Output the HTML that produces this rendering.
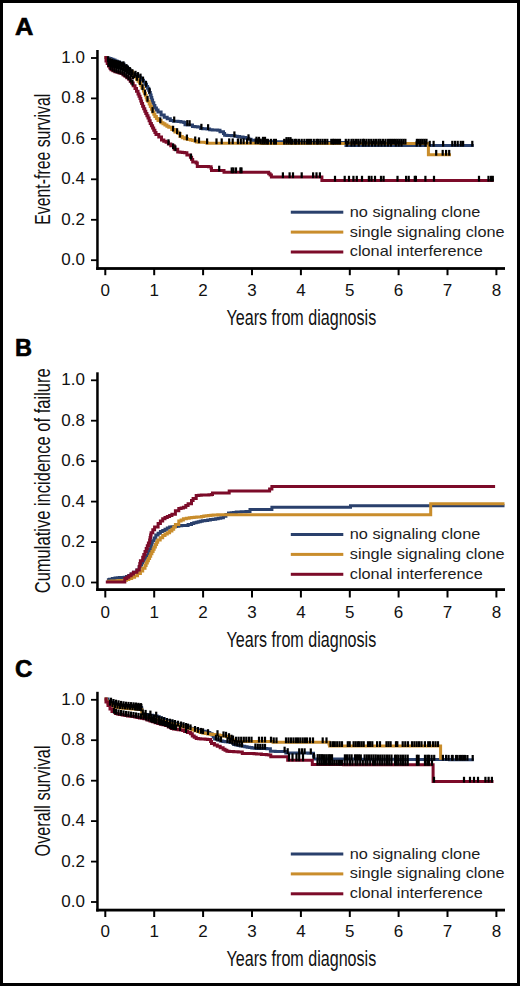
<!DOCTYPE html><html><head><meta charset="utf-8"><style>html,body{margin:0;padding:0;background:#fff;}svg{display:block;}.tk{font-family:"Liberation Sans",sans-serif;font-size:17px;fill:#111;}.ttl{font-family:"Liberation Sans",sans-serif;font-size:22px;fill:#111;}.lg{font-family:"Liberation Sans",sans-serif;font-size:15px;fill:#1c1c1c;}.pl{font-family:"Liberation Sans",sans-serif;font-size:23.5px;font-weight:bold;fill:#000;stroke:#000;stroke-width:0.6px;}</style></head><body><svg width="520" height="986" viewBox="0 0 520 986"><rect x="0" y="0" width="520" height="986" fill="#fff"/><rect x="1.5" y="1.5" width="517" height="983" fill="none" stroke="#000" stroke-width="3"/><text x="15.0" y="35.3" class="pl" textLength="18.4" lengthAdjust="spacingAndGlyphs">A</text><rect x="96.2" y="50.0" width="2.5" height="219.9" fill="#000"/><rect x="96.2" y="267.1" width="408.8" height="2.8" fill="#000"/><rect x="91" y="259.3" width="6" height="1.8" fill="#000"/><text x="85" y="265.1" text-anchor="end" class="tk">0.0</text><rect x="91" y="218.9" width="6" height="1.8" fill="#000"/><text x="85" y="224.7" text-anchor="end" class="tk">0.2</text><rect x="91" y="178.4" width="6" height="1.8" fill="#000"/><text x="85" y="184.2" text-anchor="end" class="tk">0.4</text><rect x="91" y="138.0" width="6" height="1.8" fill="#000"/><text x="85" y="143.8" text-anchor="end" class="tk">0.6</text><rect x="91" y="97.5" width="6" height="1.8" fill="#000"/><text x="85" y="103.3" text-anchor="end" class="tk">0.8</text><rect x="91" y="57.1" width="6" height="1.8" fill="#000"/><text x="85" y="62.9" text-anchor="end" class="tk">1.0</text><rect x="104.3" y="268.5" width="2" height="6.7" fill="#000"/><text x="105.3" y="295.5" text-anchor="middle" class="tk">0</text><rect x="153.2" y="268.5" width="2" height="6.7" fill="#000"/><text x="154.2" y="295.5" text-anchor="middle" class="tk">1</text><rect x="202.1" y="268.5" width="2" height="6.7" fill="#000"/><text x="203.1" y="295.5" text-anchor="middle" class="tk">2</text><rect x="251.0" y="268.5" width="2" height="6.7" fill="#000"/><text x="252.0" y="295.5" text-anchor="middle" class="tk">3</text><rect x="299.9" y="268.5" width="2" height="6.7" fill="#000"/><text x="300.9" y="295.5" text-anchor="middle" class="tk">4</text><rect x="348.8" y="268.5" width="2" height="6.7" fill="#000"/><text x="349.8" y="295.5" text-anchor="middle" class="tk">5</text><rect x="397.6" y="268.5" width="2" height="6.7" fill="#000"/><text x="398.6" y="295.5" text-anchor="middle" class="tk">6</text><rect x="446.5" y="268.5" width="2" height="6.7" fill="#000"/><text x="447.5" y="295.5" text-anchor="middle" class="tk">7</text><rect x="495.4" y="268.5" width="2" height="6.7" fill="#000"/><text x="496.4" y="295.5" text-anchor="middle" class="tk">8</text><text x="226.6" y="324.6" class="ttl" textLength="149.6" lengthAdjust="spacingAndGlyphs">Years from diagnosis</text><text transform="translate(50.4,159.2) rotate(-90)" x="-65.5" y="0" class="ttl" textLength="131.0" lengthAdjust="spacingAndGlyphs">Event-free survival</text><rect x="290.8" y="210.7" width="52.5" height="3" fill="#2a406c"/><text x="349.8" y="217.1" class="lg" textLength="130.5" lengthAdjust="spacingAndGlyphs">no signaling clone</text><rect x="290.8" y="230.6" width="52.5" height="3" fill="#c98d2c"/><text x="349.8" y="236.6" class="lg" textLength="154.8" lengthAdjust="spacingAndGlyphs">single signaling clone</text><rect x="290.8" y="250.5" width="52.5" height="3" fill="#7c0b29"/><text x="349.8" y="256.2" class="lg" textLength="133" lengthAdjust="spacingAndGlyphs">clonal interference</text><text x="15.0" y="355.6" class="pl" textLength="17.0" lengthAdjust="spacingAndGlyphs">B</text><rect x="96.2" y="372.3" width="2.5" height="218.7" fill="#000"/><rect x="96.2" y="588.2" width="408.8" height="2.8" fill="#000"/><rect x="91" y="581.6" width="6" height="1.8" fill="#000"/><text x="85" y="587.4" text-anchor="end" class="tk">0.0</text><rect x="91" y="541.2" width="6" height="1.8" fill="#000"/><text x="85" y="547.0" text-anchor="end" class="tk">0.2</text><rect x="91" y="500.7" width="6" height="1.8" fill="#000"/><text x="85" y="506.5" text-anchor="end" class="tk">0.4</text><rect x="91" y="460.3" width="6" height="1.8" fill="#000"/><text x="85" y="466.1" text-anchor="end" class="tk">0.6</text><rect x="91" y="419.8" width="6" height="1.8" fill="#000"/><text x="85" y="425.6" text-anchor="end" class="tk">0.8</text><rect x="91" y="379.4" width="6" height="1.8" fill="#000"/><text x="85" y="385.2" text-anchor="end" class="tk">1.0</text><rect x="104.3" y="589.6" width="2" height="7.9" fill="#000"/><text x="105.3" y="617.8" text-anchor="middle" class="tk">0</text><rect x="153.2" y="589.6" width="2" height="7.9" fill="#000"/><text x="154.2" y="617.8" text-anchor="middle" class="tk">1</text><rect x="202.1" y="589.6" width="2" height="7.9" fill="#000"/><text x="203.1" y="617.8" text-anchor="middle" class="tk">2</text><rect x="251.0" y="589.6" width="2" height="7.9" fill="#000"/><text x="252.0" y="617.8" text-anchor="middle" class="tk">3</text><rect x="299.9" y="589.6" width="2" height="7.9" fill="#000"/><text x="300.9" y="617.8" text-anchor="middle" class="tk">4</text><rect x="348.8" y="589.6" width="2" height="7.9" fill="#000"/><text x="349.8" y="617.8" text-anchor="middle" class="tk">5</text><rect x="397.6" y="589.6" width="2" height="7.9" fill="#000"/><text x="398.6" y="617.8" text-anchor="middle" class="tk">6</text><rect x="446.5" y="589.6" width="2" height="7.9" fill="#000"/><text x="447.5" y="617.8" text-anchor="middle" class="tk">7</text><rect x="495.4" y="589.6" width="2" height="7.9" fill="#000"/><text x="496.4" y="617.8" text-anchor="middle" class="tk">8</text><text x="226.6" y="646.9" class="ttl" textLength="149.6" lengthAdjust="spacingAndGlyphs">Years from diagnosis</text><text transform="translate(50.4,480.8) rotate(-90)" x="-112.5" y="0" class="ttl" textLength="225.0" lengthAdjust="spacingAndGlyphs">Cumulative incidence of failure</text><rect x="290.8" y="533.0" width="52.5" height="3" fill="#2a406c"/><text x="349.8" y="539.4" class="lg" textLength="130.5" lengthAdjust="spacingAndGlyphs">no signaling clone</text><rect x="290.8" y="552.9" width="52.5" height="3" fill="#c98d2c"/><text x="349.8" y="558.9" class="lg" textLength="154.8" lengthAdjust="spacingAndGlyphs">single signaling clone</text><rect x="290.8" y="572.8" width="52.5" height="3" fill="#7c0b29"/><text x="349.8" y="578.5" class="lg" textLength="133" lengthAdjust="spacingAndGlyphs">clonal interference</text><text x="15.0" y="676.8" class="pl" textLength="17.4" lengthAdjust="spacingAndGlyphs">C</text><rect x="96.2" y="691.8" width="2.5" height="219.7" fill="#000"/><rect x="96.2" y="908.7" width="408.8" height="2.8" fill="#000"/><rect x="91" y="901.1" width="6" height="1.8" fill="#000"/><text x="85" y="906.9" text-anchor="end" class="tk">0.0</text><rect x="91" y="860.7" width="6" height="1.8" fill="#000"/><text x="85" y="866.5" text-anchor="end" class="tk">0.2</text><rect x="91" y="820.2" width="6" height="1.8" fill="#000"/><text x="85" y="826.0" text-anchor="end" class="tk">0.4</text><rect x="91" y="779.8" width="6" height="1.8" fill="#000"/><text x="85" y="785.6" text-anchor="end" class="tk">0.6</text><rect x="91" y="739.3" width="6" height="1.8" fill="#000"/><text x="85" y="745.1" text-anchor="end" class="tk">0.8</text><rect x="91" y="698.9" width="6" height="1.8" fill="#000"/><text x="85" y="704.7" text-anchor="end" class="tk">1.0</text><rect x="104.3" y="910.1" width="2" height="6.9" fill="#000"/><text x="105.3" y="937.3" text-anchor="middle" class="tk">0</text><rect x="153.2" y="910.1" width="2" height="6.9" fill="#000"/><text x="154.2" y="937.3" text-anchor="middle" class="tk">1</text><rect x="202.1" y="910.1" width="2" height="6.9" fill="#000"/><text x="203.1" y="937.3" text-anchor="middle" class="tk">2</text><rect x="251.0" y="910.1" width="2" height="6.9" fill="#000"/><text x="252.0" y="937.3" text-anchor="middle" class="tk">3</text><rect x="299.9" y="910.1" width="2" height="6.9" fill="#000"/><text x="300.9" y="937.3" text-anchor="middle" class="tk">4</text><rect x="348.8" y="910.1" width="2" height="6.9" fill="#000"/><text x="349.8" y="937.3" text-anchor="middle" class="tk">5</text><rect x="397.6" y="910.1" width="2" height="6.9" fill="#000"/><text x="398.6" y="937.3" text-anchor="middle" class="tk">6</text><rect x="446.5" y="910.1" width="2" height="6.9" fill="#000"/><text x="447.5" y="937.3" text-anchor="middle" class="tk">7</text><rect x="495.4" y="910.1" width="2" height="6.9" fill="#000"/><text x="496.4" y="937.3" text-anchor="middle" class="tk">8</text><text x="226.6" y="966.4" class="ttl" textLength="149.6" lengthAdjust="spacingAndGlyphs">Years from diagnosis</text><text transform="translate(50.4,801.0) rotate(-90)" x="-55.5" y="0" class="ttl" textLength="111.0" lengthAdjust="spacingAndGlyphs">Overall survival</text><rect x="290.8" y="852.5" width="52.5" height="3" fill="#2a406c"/><text x="349.8" y="858.9" class="lg" textLength="130.5" lengthAdjust="spacingAndGlyphs">no signaling clone</text><rect x="290.8" y="872.4" width="52.5" height="3" fill="#c98d2c"/><text x="349.8" y="878.4" class="lg" textLength="154.8" lengthAdjust="spacingAndGlyphs">single signaling clone</text><rect x="290.8" y="892.3" width="52.5" height="3" fill="#7c0b29"/><text x="349.8" y="898.0" class="lg" textLength="133" lengthAdjust="spacingAndGlyphs">clonal interference</text><path d="M104.5,57.5H106.8V58.0H109.0V58.5H111.0V59.2H113.0V60.0H115.0V61.0H117.0V62.0H119.0V63.0H121.0V64.0H124.0V66.5H127.0V69.5H130.0V72.5H133.0V74.5H136.5V76.0H138.4V77.2H140.4V78.3H141.9V80.2H143.5V82.0H145.0V84.2H146.5V86.5H147.6V88.3H148.7V90.2H149.5V92.6H150.3V95.0H151.1V97.6H151.8V100.1H152.6V102.7H153.8V105.4H154.9V108.1H156.4V110.0H158.0V111.9H161.1V115.0H164.2V117.3H167.2V118.8H170.3V120.4H173.4V121.2H175.7V121.3H178.0V121.5H180.9V122.0H183.8V122.5H185.0V124.8H187.3V124.9H189.6V125.0H191.9V125.1H192.5V126.5H195.0V126.7H197.5V126.9H200.0V127.1H200.6V128.6H202.7V128.7H204.8V128.8H206.9V128.9H209.0V129.0H209.6V129.8H212.3V130.0H215.0V130.1H217.7V130.3H220.0V131.7H223.5V133.5H224.6V135.2H226.9V135.4H229.2V135.6H231.5V135.8H235.0V136.3H237.3V136.6H239.6V136.9H243.1V137.5H245.9V138.3H248.8V139.2H251.1V140.3H253.4V141.5H255.9V141.5H258.3V141.6H260.8V141.6H263.2V141.6H265.7V141.6H268.1V141.7H270.6V141.7H273.0V141.7H275.5V141.7H277.9V141.8H280.4V141.8H282.8V141.8H285.3V141.8H287.7V141.9H290.2V141.9H292.6V141.9H295.1V141.9H297.5V142.0H300.0V142.0H301.0V142.6L345.0,142.6H346.0V145.6L473.8,145.6" fill="none" stroke="#2a406c" stroke-width="3.0" stroke-linejoin="miter"/><path d="M104.5,57.5H107.0V60.0H110.0V63.0H112.5V63.8H115.0V64.5H117.5V65.0H120.0V65.5H122.5V67.0H125.0V68.5H127.5V70.2H130.0V72.0H132.7V75.0H134.6V77.1H136.5V79.2H138.1V81.2H139.6V83.1H140.8V85.5H141.9V88.0H143.5V91.0H144.4V93.2H145.4V95.4H146.2V97.7H146.9V100.0H148.0V101.5H149.2V104.0H150.3V106.5H151.4V109.2H152.6V111.9H153.8V114.2H154.9V116.5H156.4V118.5H158.0V120.4H161.1V122.7H163.0V123.8H164.9V125.0H166.9V126.2H168.8V127.3H171.8V129.6H174.9V131.9H178.0V133.5H180.0V136.5H182.3V137.7H184.6V138.8H187.5V139.4H190.4V140.0H192.6V140.5H194.8V141.0H196.5V142.1H198.7V142.2H200.8V142.2H203.0V142.3H205.2V142.4H207.0V143.2L260.0,143.2H261.0V143.6L428.4,143.6L428.4,154.7L451.0,154.7" fill="none" stroke="#c98d2c" stroke-width="3.0" stroke-linejoin="miter"/><path d="M104.5,57.5H106.0V61.0H107.2V63.5H108.5V66.0H109.8V67.9H111.0V69.8H113.0V70.8H115.0V71.7H117.1V72.3H119.1V73.0H121.2V73.6H123.1V74.9H125.0V76.3H126.9V77.8H128.8V79.3H130.2V81.2H131.5V83.0H133.2V85.8H135.0V88.5H136.5V91.2H138.0V94.0H139.0V96.2H140.0V98.5H140.8V101.0H141.6V103.5H142.6V106.2H143.7V108.8H144.8V111.2H145.8V113.5H146.9V115.8H148.0V118.1H149.1V120.8H150.2V123.5H151.4V125.8H152.6V128.1H153.7V130.2H154.9V132.4H156.0V134.5H158.8V137.0H161.5V140.0H163.8V141.2H166.1V142.3H168.4V144.1H170.8V145.8H174.2V149.2H177.7V152.1H180.0V152.3H182.3V152.5H184.6V152.7H186.9V155.0H190.4V157.3H191.6V159.6H192.7V161.9H196.1V163.1H197.3V166.5H199.5V166.5H201.7V166.6H203.9V166.6H206.2V166.6H208.4V166.7H210.6V166.7H211.1V168.6H211.5V170.5L222.1,170.5H224.0V172.2L267.4,172.2H268.7V173.7H270.1V175.1H271.4V177.1L321.2,177.1H321.9V180.6L493.7,180.6" fill="none" stroke="#7c0b29" stroke-width="3.0" stroke-linejoin="miter"/><path d="M106.9,579.8H109.6V579.2H112.3V578.6H115.0V578.0H117.3V577.8H119.6V577.6H121.9V577.5H124.2V577.3H126.5V576.4H128.8V575.5H131.1V573.9H133.4V572.3H136.9V570.0H139.2V567.0H140.3V565.0H141.5V563.0H142.8V561.0H144.0V559.0H145.2V557.0H146.5V555.0H148.4V551.5H149.6V549.2H150.7V546.9H151.2V544.8H151.8V542.8H152.3V540.7H154.1V537.9H155.8V535.0H158.1V533.2H160.4V531.5H162.7V530.4H165.0V529.2H167.3V528.0H169.6V526.9H171.9V526.8H174.2V526.6H176.5V526.2H178.8V525.8H181.7V525.6H184.6V525.5H188.1V524.6H191.5V523.4H193.8V522.8H196.2V522.3H198.2V521.8H200.3V521.3H202.3V520.8H205.0V520.4H207.7V520.0H210.4V519.6H213.1V519.2H215.7V518.7H218.2V518.2H220.8V517.7H223.4V516.2H225.9V514.6H228.5V513.1H231.1V512.7H233.6V512.4H236.2V512.0H238.7V511.9H241.1V511.8H243.6V511.7H246.0V511.6H248.5V511.5H250.0V509.6L270.8,509.6H271.9V507.3L349.3,507.3H350.5V505.8L504.5,505.8" fill="none" stroke="#2a406c" stroke-width="3.0" stroke-linejoin="miter"/><path d="M106.9,581.3H109.4V581.2H111.8V581.0H114.3V580.9H116.8V580.7H119.3V580.6H121.7V580.4H124.2V580.3H126.5V579.5H128.8V578.6H131.7V577.2H134.6V575.8H137.5V573.5H140.4V571.1H142.7V568.2H145.0V565.4H146.1V563.1H147.3V560.8H148.4V558.5H149.6V556.2H150.7V553.8H151.9V551.5H153.1V549.2H154.2V546.9H155.4V544.6H156.6V542.3H157.7V540.0H160.2V537.8H162.7V535.5H165.0V534.1H167.3V532.7H169.6V531.0H171.9V529.2H173.7V526.9H175.4V524.6H178.8V521.1H181.1V520.0H183.4V518.8H186.3V518.2H189.2V517.7H191.7V517.5H194.2V517.3H196.7V517.1H199.2V516.9H201.5V516.5H203.8V516.1H206.2V515.8H208.5V515.4H210.8V515.2H213.1V515.0H215.4V514.9H217.7V514.7L430.7,514.7L430.7,503.8L504.5,503.8" fill="none" stroke="#c98d2c" stroke-width="3.0" stroke-linejoin="miter"/><path d="M105.8,582.1L124.2,582.1H124.8V578.6H126.8V577.2H128.8V575.8H131.1V574.0H133.4V572.3H136.9V570.0H139.2V566.5H139.8V563.6H140.4V560.8H142.7V557.3H143.8V554.4H145.0V551.5H146.2V548.6H147.3V545.8H148.4V542.9H149.6V540.0H150.1V537.6H150.6V535.1H151.1V532.7H152.8V529.8H154.6V526.9H158.1V523.4H160.4V521.1H162.7V518.8H165.0V517.6H167.3V516.5H169.6V515.4H171.9V514.2H175.4V510.8H178.8V508.5H181.1V507.9H183.4V507.3H185.8V505.6H188.1V503.8H191.5V500.4H193.1V498.5H196.2V495.4H198.8V495.3H201.3V495.1H203.8V495.0H206.4V494.9H208.9V494.7H211.5V494.6H212.5V493.1L228.5,493.1H229.2V491.1L268.5,491.1H269.6V488.9H271.9V486.5L495.1,486.5" fill="none" stroke="#7c0b29" stroke-width="3.0" stroke-linejoin="miter"/><path d="M104.6,699.0H108.0V701.0H111.0V702.5H114.0V704.0H117.0V704.8H120.0V705.5H123.0V706.0H126.0V706.5H129.0V706.8H132.0V707.0H135.0V707.2H138.0V707.5H141.5V708.0H141.8V710.1H142.2V712.2H142.5V714.3H145.0V714.6H147.5V715.0H150.0V715.3H152.5V715.7H155.0V716.0H157.2V716.8H159.3V717.7H161.5V718.5H164.1V719.4H166.6V720.4H169.2V721.3H171.8V722.3H174.3V723.2H176.9V724.2H179.2V725.0H181.5V725.8H183.9V726.5H186.2V727.3H188.5V728.1H190.8V728.6H193.1V729.1H195.4V729.5H197.7V730.0H200.0V730.5H202.6V731.2H205.1V731.8H207.7V732.5H209.8V733.8H212.0V735.0H213.3V737.0H214.6V739.0H217.5V740.0H220.4V741.0H222.8V741.4H225.2V741.7H227.6V742.0H230.0V742.4H233.6V744.5H235.8V745.0H238.1V745.4H240.3V745.9H242.6V746.3H244.8V746.8H247.1V747.2H249.4V747.5H251.8V747.9H254.2V748.2H256.5V748.5H259.1V748.5H261.7V748.6H264.2V748.6H266.8V748.7H269.4V748.7H270.4V751.3H272.8V751.3H275.2V751.4H277.6V751.4H280.0V751.4H282.4V751.5H284.8V751.5H285.8V753.0H288.3V753.0H290.7V753.0H293.2V753.1H295.7V753.1H298.2V753.1H300.6V753.1H303.1V753.1H305.6V753.1H308.1V753.2H310.5V753.2H313.0V753.2H313.5V756.0H314.0V758.9H316.4V758.9H318.8V758.9H321.3V758.9H323.7V759.0H326.1V759.0H328.5V759.0H331.0V759.0H333.4V759.0H335.8V759.0H338.2V759.0H340.7V759.0H343.1V759.1H345.5V759.1H347.9V759.1H350.3V759.1H352.8V759.1H355.2V759.1H357.6V759.1H360.0V759.2H362.5V759.2H364.9V759.2H367.3V759.2H369.7V759.2H372.2V759.2H374.6V759.2H377.0V759.2H379.4V759.3H381.8V759.3H384.3V759.3H386.7V759.3H389.1V759.3H391.5V759.3H394.0V759.3H396.4V759.4H398.8V759.4H401.2V759.4H403.7V759.4H406.1V759.4H408.5V759.4H410.9V759.4H413.3V759.5H415.8V759.5H418.2V759.5H420.6V759.5H423.0V759.5H425.5V759.5H427.9V759.5H430.3V759.5H432.7V759.6H435.2V759.6H437.6V759.6H440.0V759.6H442.4V759.6H444.8V759.6H447.2V759.6H449.6V759.7H452.1V759.7H454.5V759.7H456.9V759.7H459.3V759.7H461.7V759.7H464.1V759.7H466.5V759.8H468.9V759.8H471.3V759.8H473.8V759.8" fill="none" stroke="#2a406c" stroke-width="3.0" stroke-linejoin="miter"/><path d="M104.6,699.0H106.3V701.2H108.0V703.5H111.0V705.2H114.0V707.0H117.0V707.5H120.0V708.0H123.0V708.2H126.0V708.5H129.0V708.8H132.0V709.0H134.4V709.1H136.8V709.2H139.1V709.4H141.5V709.5H141.8V712.0H142.2V714.5H142.5V717.0H145.0V717.5H147.5V718.0H150.0V718.5H152.3V719.0H154.7V719.5H157.0V720.0H159.7V720.8H162.3V721.5H165.0V722.3H167.3V722.9H169.7V723.4H172.0V724.0H174.7V724.7H177.3V725.3H180.0V726.0H182.5V726.8H185.0V727.5H187.5V728.2H190.0V729.0H192.5V729.9H195.0V730.8H197.5V731.6H200.0V732.5H202.6V733.0H205.1V733.5H207.7V734.0H210.1V734.2H212.5V734.5H214.9V734.8H217.3V735.0H219.7V735.5H222.1V735.9H224.5V736.3H226.9V736.8H229.6V738.4H232.3V739.9H235.0V741.5L272.0,741.5H273.0V742.2L328.3,742.2H329.0V744.1H329.6V746.0L440.6,746.0L440.6,759.7" fill="none" stroke="#c98d2c" stroke-width="3.0" stroke-linejoin="miter"/><path d="M104.6,699.0H106.0V702.0H108.0V705.5H110.0V709.0H112.0V711.5H115.4V713.5H117.4V714.0H119.4V714.5H122.2V715.0H125.0V715.5H127.5V715.9H129.9V716.2H132.4V716.6H134.8V717.0H137.1V717.4H139.4V717.9H141.7V718.3H144.0V718.7H147.0V719.9H150.0V721.0H152.6V721.8H155.1V722.7H157.7V723.5H160.3V724.2H162.8V724.8H165.4V725.5H168.3V727.0H171.2V728.5H173.5V728.9H175.8V729.3H178.1V729.7H180.4V730.1H182.7V730.5H184.6V731.5H187.5V732.6H190.4V733.8H192.3V736.0H194.2V737.2H196.2V738.5H198.4V738.7H200.7V738.9H202.9V739.0H205.1V739.2H207.4V739.4H209.6V739.6H210.6V741.5H211.5V743.5H214.4V744.9H217.3V746.3H220.2V747.8H223.1V749.2H225.0V750.2H226.9V751.2H229.2V751.4H231.4V751.5H233.7V751.7H235.9V751.8H238.2V752.0H240.4V752.1H242.3V753.5L251.5,753.5H254.0V753.7H256.4V753.9H258.9V754.1H261.4V754.4H263.9V754.6H266.3V754.8H268.8V755.0H270.8V756.8L287.7,756.8L287.7,760.3L312.3,760.3L312.3,764.6H314.7V764.6H317.1V764.6H319.5V764.6H322.0V764.6H324.4V764.6H326.8V764.6H329.2V764.6H331.6V764.6H334.0V764.6H336.5V764.6H338.9V764.6H341.3V764.6H343.7V764.7H346.1V764.7H348.5V764.7H351.0V764.7H353.4V764.7H355.8V764.7H358.2V764.7H360.6V764.7H363.0V764.7H365.5V764.7H367.9V764.7H370.3V764.7H372.7V764.7H375.1V764.7H377.5V764.7H379.9V764.7H382.4V764.7H384.8V764.7H387.2V764.7H389.6V764.7H392.0V764.7H394.4V764.7H396.9V764.7H399.3V764.7H401.7V764.7H404.1V764.8H406.5V764.8H408.9V764.8H411.4V764.8H413.8V764.8H416.2V764.8H418.6V764.8H421.0V764.8H423.4V764.8H425.9V764.8H428.3V764.8H430.7V764.8H433.1V764.8L433.1,781.6L493.5,781.6" fill="none" stroke="#7c0b29" stroke-width="3.0" stroke-linejoin="miter"/><g fill="#000"><rect x="122.4" y="61.3" width="2.2" height="5.8"/><rect x="125.4" y="64.2" width="2.2" height="5.8"/><rect x="128.4" y="67.2" width="2.2" height="5.8"/><rect x="131.4" y="69.4" width="2.2" height="5.8"/><rect x="134.4" y="70.8" width="2.2" height="5.8"/><rect x="136.9" y="72.1" width="2.2" height="5.8"/><rect x="139.4" y="73.6" width="2.2" height="5.8"/><rect x="141.9" y="76.6" width="2.2" height="5.8"/><rect x="144.9" y="81.0" width="2.2" height="5.8"/><rect x="148.4" y="87.8" width="2.2" height="5.8"/><rect x="173.1" y="116.5" width="2.2" height="5.8"/><rect x="247.4" y="134.3" width="2.2" height="5.8"/><rect x="255.4" y="136.7" width="2.2" height="5.8"/><rect x="257.9" y="136.8" width="2.2" height="5.8"/><rect x="261.9" y="136.8" width="2.2" height="5.8"/><rect x="263.9" y="136.8" width="2.2" height="5.8"/><rect x="285.4" y="137.1" width="2.2" height="5.8"/><rect x="287.4" y="137.1" width="2.2" height="5.8"/><rect x="289.4" y="137.1" width="2.2" height="5.8"/><rect x="345.9" y="140.8" width="2.2" height="5.8"/><rect x="350.4" y="140.8" width="2.2" height="5.8"/><rect x="353.4" y="140.8" width="2.2" height="5.8"/><rect x="357.6" y="140.8" width="2.2" height="5.8"/><rect x="361.9" y="140.8" width="2.2" height="5.8"/><rect x="364.4" y="140.8" width="2.2" height="5.8"/><rect x="367.6" y="140.8" width="2.2" height="5.8"/><rect x="370.9" y="140.8" width="2.2" height="5.8"/><rect x="374.1" y="140.8" width="2.2" height="5.8"/><rect x="377.4" y="140.8" width="2.2" height="5.8"/><rect x="380.4" y="140.8" width="2.2" height="5.8"/><rect x="383.6" y="140.8" width="2.2" height="5.8"/><rect x="386.9" y="140.8" width="2.2" height="5.8"/><rect x="389.9" y="140.8" width="2.2" height="5.8"/><rect x="394.7" y="140.8" width="2.2" height="5.8"/><rect x="397.6" y="140.8" width="2.2" height="5.8"/><rect x="400.4" y="140.8" width="2.2" height="5.8"/><rect x="186.2" y="120.1" width="2.2" height="5.8"/><rect x="188.5" y="120.2" width="2.2" height="5.8"/><rect x="200.3" y="123.8" width="2.2" height="5.8"/><rect x="207.0" y="124.2" width="2.2" height="5.8"/><rect x="233.3" y="131.4" width="2.2" height="5.8"/><rect x="415.6" y="140.8" width="2.2" height="5.8"/><rect x="419.1" y="140.8" width="2.2" height="5.8"/><rect x="424.3" y="140.8" width="2.2" height="5.8"/><rect x="428.6" y="140.8" width="2.2" height="5.8"/><rect x="432.5" y="140.8" width="2.2" height="5.8"/><rect x="442.0" y="140.8" width="2.2" height="5.8"/><rect x="451.2" y="140.8" width="2.2" height="5.8"/><rect x="453.9" y="140.8" width="2.2" height="5.8"/><rect x="456.6" y="140.8" width="2.2" height="5.8"/><rect x="459.7" y="140.8" width="2.2" height="5.8"/><rect x="462.0" y="140.8" width="2.2" height="5.8"/><rect x="471.2" y="140.8" width="2.2" height="5.8"/><rect x="106.9" y="56.2" width="2.2" height="5.8"/><rect x="108.9" y="58.2" width="2.2" height="5.8"/><rect x="110.9" y="58.8" width="2.2" height="5.8"/><rect x="112.9" y="59.4" width="2.2" height="5.8"/><rect x="114.9" y="59.9" width="2.2" height="5.8"/><rect x="116.9" y="60.3" width="2.2" height="5.8"/><rect x="118.9" y="60.7" width="2.2" height="5.8"/><rect x="120.9" y="61.9" width="2.2" height="5.8"/><rect x="122.9" y="63.1" width="2.2" height="5.8"/><rect x="124.9" y="64.4" width="2.2" height="5.8"/><rect x="126.9" y="65.8" width="2.2" height="5.8"/><rect x="128.9" y="67.2" width="2.2" height="5.8"/><rect x="130.9" y="69.4" width="2.2" height="5.8"/><rect x="133.4" y="72.2" width="2.2" height="5.8"/><rect x="135.9" y="75.0" width="2.2" height="5.8"/><rect x="138.9" y="79.2" width="2.2" height="5.8"/><rect x="141.4" y="84.3" width="2.2" height="5.8"/><rect x="143.9" y="89.7" width="2.2" height="5.8"/><rect x="146.4" y="96.0" width="2.2" height="5.8"/><rect x="151.5" y="107.1" width="2.2" height="5.8"/><rect x="159.2" y="117.3" width="2.2" height="5.8"/><rect x="172.0" y="125.8" width="2.2" height="5.8"/><rect x="176.0" y="128.2" width="2.2" height="5.8"/><rect x="178.9" y="131.7" width="2.2" height="5.8"/><rect x="185.8" y="134.5" width="2.2" height="5.8"/><rect x="194.1" y="136.5" width="2.2" height="5.8"/><rect x="197.9" y="137.4" width="2.2" height="5.8"/><rect x="206.0" y="138.4" width="2.2" height="5.8"/><rect x="215.4" y="138.4" width="2.2" height="5.8"/><rect x="220.6" y="138.4" width="2.2" height="5.8"/><rect x="228.1" y="138.4" width="2.2" height="5.8"/><rect x="231.6" y="138.4" width="2.2" height="5.8"/><rect x="236.8" y="138.4" width="2.2" height="5.8"/><rect x="239.7" y="138.4" width="2.2" height="5.8"/><rect x="242.5" y="138.4" width="2.2" height="5.8"/><rect x="246.0" y="138.4" width="2.2" height="5.8"/><rect x="249.5" y="138.4" width="2.2" height="5.8"/><rect x="254.6" y="138.4" width="2.2" height="5.8"/><rect x="257.0" y="138.4" width="2.2" height="5.8"/><rect x="259.4" y="138.6" width="2.2" height="5.8"/><rect x="261.3" y="138.8" width="2.2" height="5.8"/><rect x="263.2" y="138.8" width="2.2" height="5.8"/><rect x="265.2" y="138.8" width="2.2" height="5.8"/><rect x="266.9" y="138.8" width="2.2" height="5.8"/><rect x="269.9" y="138.8" width="2.2" height="5.8"/><rect x="272.9" y="138.8" width="2.2" height="5.8"/><rect x="274.8" y="138.8" width="2.2" height="5.8"/><rect x="283.1" y="138.8" width="2.2" height="5.8"/><rect x="285.4" y="138.8" width="2.2" height="5.8"/><rect x="287.6" y="138.8" width="2.2" height="5.8"/><rect x="289.9" y="138.8" width="2.2" height="5.8"/><rect x="291.4" y="138.8" width="2.2" height="5.8"/><rect x="293.9" y="138.8" width="2.2" height="5.8"/><rect x="295.4" y="138.8" width="2.2" height="5.8"/><rect x="297.9" y="138.8" width="2.2" height="5.8"/><rect x="300.6" y="138.8" width="2.2" height="5.8"/><rect x="303.3" y="138.8" width="2.2" height="5.8"/><rect x="305.9" y="138.8" width="2.2" height="5.8"/><rect x="307.9" y="138.8" width="2.2" height="5.8"/><rect x="309.9" y="138.8" width="2.2" height="5.8"/><rect x="312.7" y="138.8" width="2.2" height="5.8"/><rect x="315.4" y="138.8" width="2.2" height="5.8"/><rect x="316.9" y="138.8" width="2.2" height="5.8"/><rect x="319.2" y="138.8" width="2.2" height="5.8"/><rect x="321.5" y="138.8" width="2.2" height="5.8"/><rect x="323.9" y="138.8" width="2.2" height="5.8"/><rect x="326.2" y="138.8" width="2.2" height="5.8"/><rect x="330.2" y="138.8" width="2.2" height="5.8"/><rect x="331.9" y="138.8" width="2.2" height="5.8"/><rect x="333.1" y="138.8" width="2.2" height="5.8"/><rect x="335.0" y="138.8" width="2.2" height="5.8"/><rect x="337.0" y="138.8" width="2.2" height="5.8"/><rect x="338.9" y="138.8" width="2.2" height="5.8"/><rect x="344.7" y="138.8" width="2.2" height="5.8"/><rect x="347.5" y="138.8" width="2.2" height="5.8"/><rect x="350.4" y="138.8" width="2.2" height="5.8"/><rect x="352.4" y="138.8" width="2.2" height="5.8"/><rect x="354.8" y="138.8" width="2.2" height="5.8"/><rect x="357.1" y="138.8" width="2.2" height="5.8"/><rect x="359.5" y="138.8" width="2.2" height="5.8"/><rect x="361.9" y="138.8" width="2.2" height="5.8"/><rect x="362.9" y="138.8" width="2.2" height="5.8"/><rect x="365.3" y="138.8" width="2.2" height="5.8"/><rect x="367.7" y="138.8" width="2.2" height="5.8"/><rect x="370.1" y="138.8" width="2.2" height="5.8"/><rect x="372.6" y="138.8" width="2.2" height="5.8"/><rect x="375.0" y="138.8" width="2.2" height="5.8"/><rect x="377.4" y="138.8" width="2.2" height="5.8"/><rect x="379.3" y="138.8" width="2.2" height="5.8"/><rect x="381.8" y="138.8" width="2.2" height="5.8"/><rect x="384.4" y="138.8" width="2.2" height="5.8"/><rect x="386.9" y="138.8" width="2.2" height="5.8"/><rect x="388.9" y="138.8" width="2.2" height="5.8"/><rect x="390.8" y="138.8" width="2.2" height="5.8"/><rect x="392.8" y="138.8" width="2.2" height="5.8"/><rect x="394.7" y="138.8" width="2.2" height="5.8"/><rect x="396.6" y="138.8" width="2.2" height="5.8"/><rect x="398.5" y="138.8" width="2.2" height="5.8"/><rect x="400.4" y="138.8" width="2.2" height="5.8"/><rect x="402.4" y="138.8" width="2.2" height="5.8"/><rect x="404.3" y="138.8" width="2.2" height="5.8"/><rect x="415.8" y="138.8" width="2.2" height="5.8"/><rect x="417.7" y="138.8" width="2.2" height="5.8"/><rect x="419.7" y="138.8" width="2.2" height="5.8"/><rect x="421.6" y="138.8" width="2.2" height="5.8"/><rect x="423.5" y="138.8" width="2.2" height="5.8"/><rect x="425.4" y="138.8" width="2.2" height="5.8"/><rect x="435.1" y="149.9" width="2.2" height="5.8"/><rect x="441.6" y="149.9" width="2.2" height="5.8"/><rect x="445.0" y="149.9" width="2.2" height="5.8"/><rect x="448.1" y="149.9" width="2.2" height="5.8"/><rect x="107.9" y="62.0" width="2.2" height="4.0"/><rect x="109.9" y="63.3" width="2.2" height="4.0"/><rect x="111.9" y="63.9" width="2.2" height="4.0"/><rect x="113.9" y="64.5" width="2.2" height="4.0"/><rect x="115.9" y="64.9" width="2.2" height="4.0"/><rect x="117.9" y="65.3" width="2.2" height="4.0"/><rect x="119.9" y="66.1" width="2.2" height="4.0"/><rect x="121.9" y="67.3" width="2.2" height="4.0"/><rect x="123.9" y="68.5" width="2.2" height="4.0"/><rect x="125.9" y="69.9" width="2.2" height="4.0"/><rect x="127.9" y="71.3" width="2.2" height="4.0"/><rect x="129.9" y="73.1" width="2.2" height="4.0"/><rect x="131.9" y="75.3" width="2.2" height="4.0"/><rect x="107.4" y="61.2" width="2.2" height="5.8"/><rect x="109.4" y="64.2" width="2.2" height="5.8"/><rect x="111.4" y="65.7" width="2.2" height="5.8"/><rect x="113.4" y="66.7" width="2.2" height="5.8"/><rect x="115.4" y="67.4" width="2.2" height="5.8"/><rect x="117.4" y="68.0" width="2.2" height="5.8"/><rect x="119.4" y="68.6" width="2.2" height="5.8"/><rect x="121.4" y="69.7" width="2.2" height="5.8"/><rect x="123.4" y="71.1" width="2.2" height="5.8"/><rect x="125.4" y="72.7" width="2.2" height="5.8"/><rect x="127.4" y="74.3" width="2.2" height="5.8"/><rect x="129.4" y="76.8" width="2.2" height="5.8"/><rect x="131.4" y="79.8" width="2.2" height="5.8"/><rect x="167.4" y="139.3" width="2.2" height="5.8"/><rect x="172.0" y="143.3" width="2.2" height="5.8"/><rect x="174.3" y="145.4" width="2.2" height="5.8"/><rect x="189.9" y="153.7" width="2.2" height="5.8"/><rect x="218.1" y="165.7" width="2.2" height="5.8"/><rect x="230.6" y="167.4" width="2.2" height="5.8"/><rect x="232.3" y="167.4" width="2.2" height="5.8"/><rect x="234.9" y="167.4" width="2.2" height="5.8"/><rect x="239.3" y="167.4" width="2.2" height="5.8"/><rect x="240.4" y="167.4" width="2.2" height="5.8"/><rect x="281.8" y="172.3" width="2.2" height="5.8"/><rect x="288.5" y="172.3" width="2.2" height="5.8"/><rect x="291.9" y="172.3" width="2.2" height="5.8"/><rect x="300.6" y="172.3" width="2.2" height="5.8"/><rect x="312.0" y="172.3" width="2.2" height="5.8"/><rect x="315.4" y="172.3" width="2.2" height="5.8"/><rect x="318.8" y="172.3" width="2.2" height="5.8"/><rect x="333.9" y="175.8" width="2.2" height="5.8"/><rect x="343.6" y="175.8" width="2.2" height="5.8"/><rect x="347.9" y="175.8" width="2.2" height="5.8"/><rect x="352.3" y="175.8" width="2.2" height="5.8"/><rect x="355.7" y="175.8" width="2.2" height="5.8"/><rect x="360.9" y="175.8" width="2.2" height="5.8"/><rect x="367.8" y="175.8" width="2.2" height="5.8"/><rect x="370.4" y="175.8" width="2.2" height="5.8"/><rect x="373.9" y="175.8" width="2.2" height="5.8"/><rect x="379.9" y="175.8" width="2.2" height="5.8"/><rect x="382.5" y="175.8" width="2.2" height="5.8"/><rect x="396.4" y="175.8" width="2.2" height="5.8"/><rect x="405.0" y="175.8" width="2.2" height="5.8"/><rect x="407.6" y="175.8" width="2.2" height="5.8"/><rect x="413.7" y="175.8" width="2.2" height="5.8"/><rect x="414.8" y="175.8" width="2.2" height="5.8"/><rect x="424.3" y="175.8" width="2.2" height="5.8"/><rect x="432.9" y="175.8" width="2.2" height="5.8"/><rect x="477.9" y="175.8" width="2.2" height="5.8"/><rect x="487.4" y="175.8" width="2.2" height="5.8"/><rect x="490.0" y="175.8" width="2.2" height="5.8"/><rect x="491.7" y="175.8" width="2.2" height="5.8"/><rect x="109.9" y="697.7" width="2.2" height="5.8"/><rect x="112.4" y="699.0" width="2.2" height="5.8"/><rect x="114.9" y="699.7" width="2.2" height="5.8"/><rect x="117.4" y="700.3" width="2.2" height="5.8"/><rect x="119.9" y="700.9" width="2.2" height="5.8"/><rect x="122.4" y="701.3" width="2.2" height="5.8"/><rect x="124.9" y="701.7" width="2.2" height="5.8"/><rect x="127.4" y="701.9" width="2.2" height="5.8"/><rect x="129.9" y="702.1" width="2.2" height="5.8"/><rect x="132.4" y="702.3" width="2.2" height="5.8"/><rect x="134.9" y="702.5" width="2.2" height="5.8"/><rect x="137.4" y="702.8" width="2.2" height="5.8"/><rect x="139.9" y="703.1" width="2.2" height="5.8"/><rect x="141.6" y="709.5" width="2.2" height="5.8"/><rect x="144.5" y="709.9" width="2.2" height="5.8"/><rect x="149.3" y="710.6" width="2.2" height="5.8"/><rect x="155.1" y="711.7" width="2.2" height="5.8"/><rect x="214.9" y="734.7" width="2.2" height="5.8"/><rect x="217.4" y="735.5" width="2.2" height="5.8"/><rect x="219.9" y="736.3" width="2.2" height="5.8"/><rect x="226.4" y="737.2" width="2.2" height="5.8"/><rect x="228.9" y="737.6" width="2.2" height="5.8"/><rect x="231.2" y="738.9" width="2.2" height="5.8"/><rect x="233.6" y="739.9" width="2.2" height="5.8"/><rect x="236.1" y="740.4" width="2.2" height="5.8"/><rect x="238.5" y="740.9" width="2.2" height="5.8"/><rect x="240.9" y="741.4" width="2.2" height="5.8"/><rect x="254.3" y="743.5" width="2.2" height="5.8"/><rect x="256.7" y="743.7" width="2.2" height="5.8"/><rect x="259.1" y="743.8" width="2.2" height="5.8"/><rect x="261.5" y="743.8" width="2.2" height="5.8"/><rect x="263.9" y="743.8" width="2.2" height="5.8"/><rect x="283.5" y="746.7" width="2.2" height="5.8"/><rect x="286.6" y="748.2" width="2.2" height="5.8"/><rect x="298.1" y="748.3" width="2.2" height="5.8"/><rect x="300.8" y="748.3" width="2.2" height="5.8"/><rect x="303.5" y="748.3" width="2.2" height="5.8"/><rect x="309.7" y="748.4" width="2.2" height="5.8"/><rect x="312.7" y="753.0" width="2.2" height="5.8"/><rect x="316.6" y="754.1" width="2.2" height="5.8"/><rect x="318.7" y="754.1" width="2.2" height="5.8"/><rect x="320.8" y="754.1" width="2.2" height="5.8"/><rect x="323.0" y="754.2" width="2.2" height="5.8"/><rect x="325.1" y="754.2" width="2.2" height="5.8"/><rect x="327.2" y="754.2" width="2.2" height="5.8"/><rect x="328.9" y="754.2" width="2.2" height="5.8"/><rect x="330.9" y="754.2" width="2.2" height="5.8"/><rect x="343.8" y="754.3" width="2.2" height="5.8"/><rect x="346.0" y="754.3" width="2.2" height="5.8"/><rect x="348.3" y="754.3" width="2.2" height="5.8"/><rect x="350.5" y="754.3" width="2.2" height="5.8"/><rect x="353.9" y="754.3" width="2.2" height="5.8"/><rect x="355.8" y="754.3" width="2.2" height="5.8"/><rect x="357.8" y="754.3" width="2.2" height="5.8"/><rect x="359.7" y="754.4" width="2.2" height="5.8"/><rect x="363.5" y="754.4" width="2.2" height="5.8"/><rect x="365.7" y="754.4" width="2.2" height="5.8"/><rect x="367.9" y="754.4" width="2.2" height="5.8"/><rect x="370.2" y="754.4" width="2.2" height="5.8"/><rect x="372.4" y="754.4" width="2.2" height="5.8"/><rect x="374.6" y="754.4" width="2.2" height="5.8"/><rect x="376.8" y="754.5" width="2.2" height="5.8"/><rect x="379.1" y="754.5" width="2.2" height="5.8"/><rect x="381.3" y="754.5" width="2.2" height="5.8"/><rect x="383.5" y="754.5" width="2.2" height="5.8"/><rect x="385.8" y="754.5" width="2.2" height="5.8"/><rect x="388.1" y="754.5" width="2.2" height="5.8"/><rect x="390.4" y="754.5" width="2.2" height="5.8"/><rect x="393.9" y="754.6" width="2.2" height="5.8"/><rect x="395.6" y="754.6" width="2.2" height="5.8"/><rect x="397.4" y="754.6" width="2.2" height="5.8"/><rect x="399.7" y="754.6" width="2.2" height="5.8"/><rect x="402.0" y="754.6" width="2.2" height="5.8"/><rect x="404.3" y="754.6" width="2.2" height="5.8"/><rect x="406.6" y="754.6" width="2.2" height="5.8"/><rect x="415.8" y="754.7" width="2.2" height="5.8"/><rect x="417.5" y="754.7" width="2.2" height="5.8"/><rect x="423.9" y="754.7" width="2.2" height="5.8"/><rect x="426.2" y="754.7" width="2.2" height="5.8"/><rect x="427.9" y="754.7" width="2.2" height="5.8"/><rect x="430.5" y="754.8" width="2.2" height="5.8"/><rect x="433.1" y="754.8" width="2.2" height="5.8"/><rect x="441.8" y="754.8" width="2.2" height="5.8"/><rect x="445.0" y="754.8" width="2.2" height="5.8"/><rect x="447.5" y="754.9" width="2.2" height="5.8"/><rect x="450.8" y="754.9" width="2.2" height="5.8"/><rect x="451.6" y="754.9" width="2.2" height="5.8"/><rect x="454.9" y="754.9" width="2.2" height="5.8"/><rect x="456.5" y="754.9" width="2.2" height="5.8"/><rect x="458.9" y="754.9" width="2.2" height="5.8"/><rect x="460.6" y="754.9" width="2.2" height="5.8"/><rect x="462.2" y="754.9" width="2.2" height="5.8"/><rect x="463.9" y="754.9" width="2.2" height="5.8"/><rect x="466.3" y="755.0" width="2.2" height="5.8"/><rect x="471.6" y="755.0" width="2.2" height="5.8"/><rect x="134.4" y="703.3" width="2.2" height="7.2"/><rect x="136.4" y="703.5" width="2.2" height="7.2"/><rect x="138.4" y="703.7" width="2.2" height="7.2"/><rect x="140.2" y="704.0" width="2.2" height="7.2"/><rect x="108.9" y="699.9" width="2.2" height="5.8"/><rect x="111.4" y="701.3" width="2.2" height="5.8"/><rect x="113.9" y="702.4" width="2.2" height="5.8"/><rect x="116.4" y="702.8" width="2.2" height="5.8"/><rect x="118.9" y="703.2" width="2.2" height="5.8"/><rect x="121.4" y="703.4" width="2.2" height="5.8"/><rect x="123.9" y="703.6" width="2.2" height="5.8"/><rect x="126.4" y="703.8" width="2.2" height="5.8"/><rect x="128.9" y="704.0" width="2.2" height="5.8"/><rect x="131.4" y="704.2" width="2.2" height="5.8"/><rect x="133.9" y="704.4" width="2.2" height="5.8"/><rect x="136.4" y="704.5" width="2.2" height="5.8"/><rect x="138.9" y="704.6" width="2.2" height="5.8"/><rect x="142.9" y="712.5" width="2.2" height="5.8"/><rect x="145.4" y="713.0" width="2.2" height="5.8"/><rect x="147.9" y="713.5" width="2.2" height="5.8"/><rect x="150.4" y="714.0" width="2.2" height="5.8"/><rect x="152.9" y="714.6" width="2.2" height="5.8"/><rect x="155.4" y="715.1" width="2.2" height="5.8"/><rect x="157.9" y="715.8" width="2.2" height="5.8"/><rect x="160.4" y="716.5" width="2.2" height="5.8"/><rect x="162.9" y="717.2" width="2.2" height="5.8"/><rect x="165.9" y="718.0" width="2.2" height="5.8"/><rect x="168.9" y="718.7" width="2.2" height="5.8"/><rect x="171.4" y="719.3" width="2.2" height="5.8"/><rect x="173.9" y="720.0" width="2.2" height="5.8"/><rect x="176.9" y="720.7" width="2.2" height="5.8"/><rect x="179.9" y="721.5" width="2.2" height="5.8"/><rect x="182.4" y="722.2" width="2.2" height="5.8"/><rect x="184.9" y="723.0" width="2.2" height="5.8"/><rect x="186.9" y="723.6" width="2.2" height="5.8"/><rect x="189.4" y="724.4" width="2.2" height="5.8"/><rect x="193.9" y="726.0" width="2.2" height="5.8"/><rect x="196.9" y="727.0" width="2.2" height="5.8"/><rect x="199.9" y="727.9" width="2.2" height="5.8"/><rect x="201.9" y="728.3" width="2.2" height="5.8"/><rect x="206.9" y="729.2" width="2.2" height="5.8"/><rect x="216.4" y="730.2" width="2.2" height="5.8"/><rect x="222.4" y="731.4" width="2.2" height="5.8"/><rect x="224.9" y="731.8" width="2.2" height="5.8"/><rect x="227.9" y="733.2" width="2.2" height="5.8"/><rect x="230.4" y="734.7" width="2.2" height="5.8"/><rect x="231.9" y="735.5" width="2.2" height="5.8"/><rect x="234.9" y="736.7" width="2.2" height="5.8"/><rect x="237.5" y="736.7" width="2.2" height="5.8"/><rect x="240.1" y="736.7" width="2.2" height="5.8"/><rect x="242.7" y="736.7" width="2.2" height="5.8"/><rect x="245.2" y="736.7" width="2.2" height="5.8"/><rect x="247.8" y="736.7" width="2.2" height="5.8"/><rect x="250.4" y="736.7" width="2.2" height="5.8"/><rect x="257.9" y="736.7" width="2.2" height="5.8"/><rect x="260.9" y="736.7" width="2.2" height="5.8"/><rect x="263.9" y="736.7" width="2.2" height="5.8"/><rect x="269.9" y="736.7" width="2.2" height="5.8"/><rect x="272.6" y="737.4" width="2.2" height="5.8"/><rect x="275.4" y="737.4" width="2.2" height="5.8"/><rect x="284.9" y="737.4" width="2.2" height="5.8"/><rect x="287.4" y="737.4" width="2.2" height="5.8"/><rect x="289.9" y="737.4" width="2.2" height="5.8"/><rect x="292.4" y="737.4" width="2.2" height="5.8"/><rect x="294.9" y="737.4" width="2.2" height="5.8"/><rect x="296.9" y="737.4" width="2.2" height="5.8"/><rect x="299.2" y="737.4" width="2.2" height="5.8"/><rect x="301.6" y="737.4" width="2.2" height="5.8"/><rect x="303.9" y="737.4" width="2.2" height="5.8"/><rect x="305.9" y="737.4" width="2.2" height="5.8"/><rect x="308.9" y="737.4" width="2.2" height="5.8"/><rect x="311.9" y="737.4" width="2.2" height="5.8"/><rect x="321.6" y="737.4" width="2.2" height="5.8"/><rect x="325.4" y="737.4" width="2.2" height="5.8"/><rect x="329.4" y="741.2" width="2.2" height="5.8"/><rect x="331.8" y="741.2" width="2.2" height="5.8"/><rect x="333.7" y="741.2" width="2.2" height="5.8"/><rect x="336.1" y="741.2" width="2.2" height="5.8"/><rect x="338.5" y="741.2" width="2.2" height="5.8"/><rect x="340.9" y="741.2" width="2.2" height="5.8"/><rect x="346.7" y="741.2" width="2.2" height="5.8"/><rect x="348.6" y="741.2" width="2.2" height="5.8"/><rect x="352.5" y="741.2" width="2.2" height="5.8"/><rect x="354.6" y="741.2" width="2.2" height="5.8"/><rect x="356.8" y="741.2" width="2.2" height="5.8"/><rect x="358.4" y="741.2" width="2.2" height="5.8"/><rect x="360.5" y="741.2" width="2.2" height="5.8"/><rect x="362.6" y="741.2" width="2.2" height="5.8"/><rect x="366.9" y="741.2" width="2.2" height="5.8"/><rect x="369.0" y="741.2" width="2.2" height="5.8"/><rect x="371.2" y="741.2" width="2.2" height="5.8"/><rect x="376.0" y="741.2" width="2.2" height="5.8"/><rect x="378.9" y="741.2" width="2.2" height="5.8"/><rect x="385.4" y="741.2" width="2.2" height="5.8"/><rect x="387.4" y="741.2" width="2.2" height="5.8"/><rect x="389.5" y="741.2" width="2.2" height="5.8"/><rect x="394.9" y="741.2" width="2.2" height="5.8"/><rect x="396.2" y="741.2" width="2.2" height="5.8"/><rect x="401.6" y="741.2" width="2.2" height="5.8"/><rect x="404.2" y="741.2" width="2.2" height="5.8"/><rect x="406.9" y="741.2" width="2.2" height="5.8"/><rect x="410.9" y="741.2" width="2.2" height="5.8"/><rect x="413.3" y="741.2" width="2.2" height="5.8"/><rect x="415.6" y="741.2" width="2.2" height="5.8"/><rect x="418.0" y="741.2" width="2.2" height="5.8"/><rect x="420.4" y="741.2" width="2.2" height="5.8"/><rect x="423.8" y="741.2" width="2.2" height="5.8"/><rect x="427.1" y="741.2" width="2.2" height="5.8"/><rect x="428.9" y="741.2" width="2.2" height="5.8"/><rect x="431.9" y="741.2" width="2.2" height="5.8"/><rect x="434.4" y="741.2" width="2.2" height="5.8"/><rect x="436.9" y="741.2" width="2.2" height="5.8"/><rect x="112.9" y="707.9" width="2.2" height="5.8"/><rect x="114.9" y="708.9" width="2.2" height="5.8"/><rect x="117.4" y="709.5" width="2.2" height="5.8"/><rect x="119.9" y="710.0" width="2.2" height="5.8"/><rect x="122.4" y="710.4" width="2.2" height="5.8"/><rect x="150.9" y="716.8" width="2.2" height="5.8"/><rect x="153.9" y="717.8" width="2.2" height="5.8"/><rect x="158.9" y="719.3" width="2.2" height="5.8"/><rect x="161.9" y="720.1" width="2.2" height="5.8"/><rect x="164.9" y="721.0" width="2.2" height="5.8"/><rect x="168.9" y="723.1" width="2.2" height="5.8"/><rect x="172.9" y="724.2" width="2.2" height="5.8"/><rect x="178.9" y="725.2" width="2.2" height="5.8"/><rect x="184.9" y="727.3" width="2.2" height="5.8"/><rect x="124.9" y="710.9" width="2.2" height="5.8"/><rect x="127.4" y="711.2" width="2.2" height="5.8"/><rect x="129.9" y="711.6" width="2.2" height="5.8"/><rect x="132.4" y="712.0" width="2.2" height="5.8"/><rect x="134.9" y="712.4" width="2.2" height="5.8"/><rect x="137.4" y="712.9" width="2.2" height="5.8"/><rect x="139.9" y="713.3" width="2.2" height="5.8"/><rect x="142.4" y="713.8" width="2.2" height="5.8"/><rect x="144.9" y="714.7" width="2.2" height="5.8"/><rect x="147.4" y="715.6" width="2.2" height="5.8"/><rect x="149.9" y="716.5" width="2.2" height="5.8"/><rect x="152.4" y="717.3" width="2.2" height="5.8"/><rect x="154.9" y="718.1" width="2.2" height="5.8"/><rect x="157.4" y="718.9" width="2.2" height="5.8"/><rect x="159.9" y="719.6" width="2.2" height="5.8"/><rect x="162.9" y="720.3" width="2.2" height="5.8"/><rect x="166.9" y="722.0" width="2.2" height="5.8"/><rect x="170.9" y="723.8" width="2.2" height="5.8"/><rect x="174.9" y="724.5" width="2.2" height="5.8"/><rect x="316.4" y="759.8" width="2.2" height="5.8"/><rect x="318.6" y="759.8" width="2.2" height="5.8"/><rect x="320.7" y="759.8" width="2.2" height="5.8"/><rect x="322.9" y="759.8" width="2.2" height="5.8"/><rect x="325.0" y="759.8" width="2.2" height="5.8"/><rect x="327.2" y="759.8" width="2.2" height="5.8"/><rect x="328.9" y="759.8" width="2.2" height="5.8"/><rect x="331.1" y="759.8" width="2.2" height="5.8"/><rect x="333.2" y="759.8" width="2.2" height="5.8"/><rect x="335.4" y="759.8" width="2.2" height="5.8"/><rect x="337.4" y="759.8" width="2.2" height="5.8"/><rect x="338.9" y="759.8" width="2.2" height="5.8"/><rect x="340.9" y="759.8" width="2.2" height="5.8"/><rect x="343.6" y="759.9" width="2.2" height="5.8"/><rect x="346.2" y="759.9" width="2.2" height="5.8"/><rect x="348.9" y="759.9" width="2.2" height="5.8"/><rect x="351.4" y="759.9" width="2.2" height="5.8"/><rect x="354.4" y="759.9" width="2.2" height="5.8"/><rect x="356.4" y="759.9" width="2.2" height="5.8"/><rect x="359.1" y="759.9" width="2.2" height="5.8"/><rect x="361.7" y="759.9" width="2.2" height="5.8"/><rect x="364.4" y="759.9" width="2.2" height="5.8"/><rect x="366.4" y="759.9" width="2.2" height="5.8"/><rect x="369.1" y="759.9" width="2.2" height="5.8"/><rect x="371.9" y="759.9" width="2.2" height="5.8"/><rect x="373.9" y="759.9" width="2.2" height="5.8"/><rect x="376.3" y="759.9" width="2.2" height="5.8"/><rect x="378.7" y="759.9" width="2.2" height="5.8"/><rect x="381.1" y="759.9" width="2.2" height="5.8"/><rect x="383.5" y="759.9" width="2.2" height="5.8"/><rect x="385.8" y="759.9" width="2.2" height="5.8"/><rect x="388.1" y="759.9" width="2.2" height="5.8"/><rect x="390.4" y="759.9" width="2.2" height="5.8"/><rect x="393.9" y="759.9" width="2.2" height="5.8"/><rect x="395.6" y="759.9" width="2.2" height="5.8"/><rect x="397.4" y="759.9" width="2.2" height="5.8"/><rect x="399.7" y="759.9" width="2.2" height="5.8"/><rect x="402.0" y="760.0" width="2.2" height="5.8"/><rect x="404.3" y="760.0" width="2.2" height="5.8"/><rect x="406.6" y="760.0" width="2.2" height="5.8"/><rect x="415.8" y="760.0" width="2.2" height="5.8"/><rect x="417.5" y="760.0" width="2.2" height="5.8"/><rect x="423.9" y="760.0" width="2.2" height="5.8"/><rect x="426.2" y="760.0" width="2.2" height="5.8"/><rect x="427.9" y="760.0" width="2.2" height="5.8"/><rect x="430.9" y="760.0" width="2.2" height="5.8"/><rect x="432.9" y="776.8" width="2.2" height="5.8"/><rect x="462.9" y="776.8" width="2.2" height="5.8"/><rect x="468.9" y="776.8" width="2.2" height="5.8"/><rect x="472.9" y="776.8" width="2.2" height="5.8"/><rect x="476.9" y="776.8" width="2.2" height="5.8"/><rect x="484.3" y="776.8" width="2.2" height="5.8"/><rect x="487.5" y="776.8" width="2.2" height="5.8"/><rect x="490.8" y="776.8" width="2.2" height="5.8"/><rect x="287.9" y="753.3" width="2.2" height="8.0"/><rect x="291.4" y="753.3" width="2.2" height="8.0"/><rect x="295.4" y="753.3" width="2.2" height="8.0"/><rect x="298.1" y="753.3" width="2.2" height="8.0"/><rect x="301.9" y="753.3" width="2.2" height="8.0"/></g></svg></body></html>
